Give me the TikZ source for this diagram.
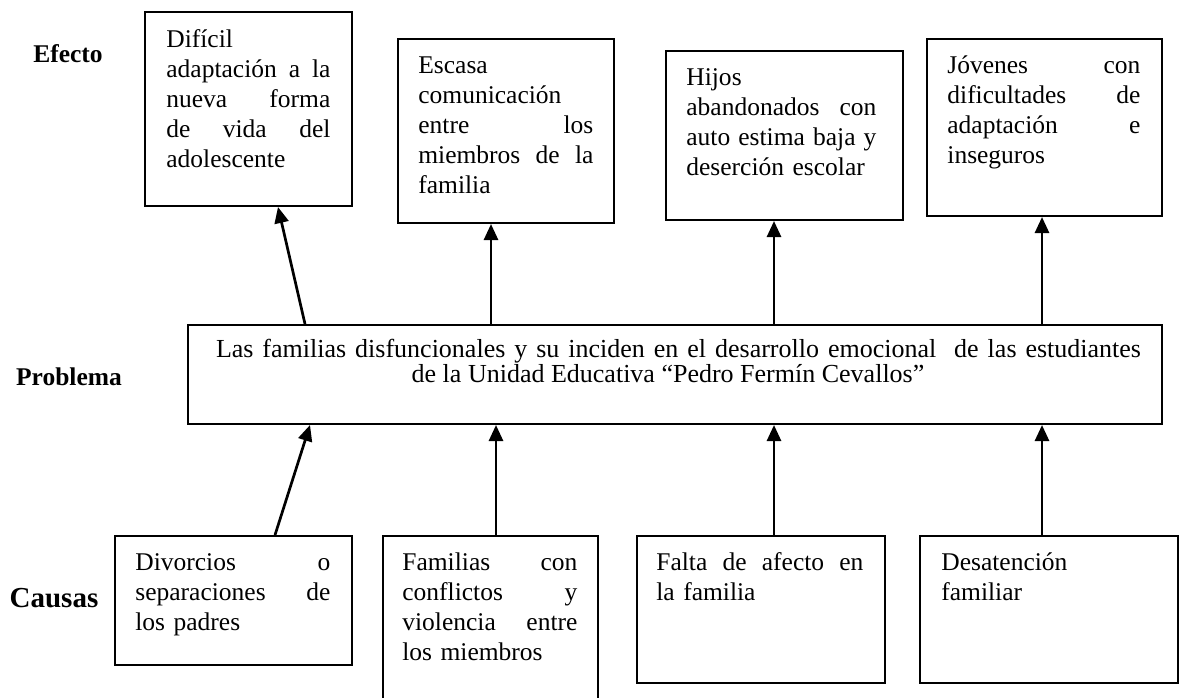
\documentclass[tikz,border=0pt]{standalone}
\usepackage{fontspec}
\setmainfont{Liberation Serif}
\usetikzlibrary{arrows.meta}
\newcommand\jl[2]{\leavevmode\hbox to #1{#2}}
\hbadness=10000 \hfuzz=20pt
\begin{document}
\begin{tikzpicture}[x=0.5pt,y=-0.5pt,
  frame/.style={draw, line width=1pt, inner sep=0pt, anchor=north west},
  txt/.style={anchor=base west, inner sep=0pt, align=left, font=\fontsize{12.75}{15}\selectfont},
  ptxt/.style={anchor=base, inner sep=0pt, font=\fontsize{13}{12.5}\selectfont},
  lbl/.style={anchor=base, inner sep=0pt, font=\fontsize{12.75}{15}\selectfont\bfseries},
  arr/.style={line width=1.35pt, -{Triangle[length=8pt,width=7pt]}}]
\useasboundingbox (0,0) rectangle (1182,697);
% frames
\node[frame, minimum width=103.5pt, minimum height=97pt] (e1) at (144,11) {};
\node[frame, minimum width=108pt, minimum height=92pt] (e2) at (397,38) {};
\node[frame, minimum width=118.5pt, minimum height=84.5pt] (e3) at (665,50) {};
\node[frame, minimum width=117.5pt, minimum height=88.5pt] (e4) at (926,38) {};
\node[frame, minimum width=487pt, minimum height=49.5pt] (prob) at (187,324) {};
\node[frame, minimum width=118.5pt, minimum height=64.5pt] (c1) at (114,535) {};
\node[frame, minimum width=107.5pt, minimum height=85pt] (c2) at (382,535) {};
\node[frame, minimum width=124pt, minimum height=73.5pt] (c3) at (636,535) {};
\node[frame, minimum width=129pt, minimum height=73.5pt] (c4) at (919,535) {};
% texts
\node[txt, text width=82pt] (t1) at (166,47)
  {Difícil\\\jl{82pt}{adaptación\hfill a\hfill la}\\\jl{82pt}{nueva\hfill forma}\\\jl{82pt}{de\hfill vida\hfill del}\\adolescente};
\node[txt, text width=87.5pt] (t2) at (418,73)
  {Escasa\\comunicación\\\jl{87.5pt}{entre\hfill los}\\\jl{87.5pt}{miembros\hfill de\hfill la}\\familia};
\node[txt, text width=96pt] (t3) at (686,85)
  {Hijos\\\jl{95pt}{abandonados\hfill con}\\\jl{95pt}{auto\hfill estima\hfill baja\hfill y}\\deserción escolar};
\node[txt, text width=96.5pt] (t4) at (947,73)
  {\jl{96.5pt}{Jóvenes\hfill con}\\\jl{96.5pt}{dificultades\hfill de}\\\jl{96.5pt}{adaptación\hfill e}\\inseguros};
\node[ptxt] (tp1) at (678.5,357)
  {\hbox to 462.5pt{Las familias disfuncionales y su inciden en el desarrollo emocional\ \ de las estudiantes}};
\node[ptxt] (tp2) at (668,382) {de la Unidad Educativa “Pedro Fermín Cevallos”};
\node[txt, text width=97.5pt] (tc1) at (135,570)
  {\jl{97.5pt}{Divorcios\hfill o}\\\jl{97.5pt}{separaciones\hfill de}\\los padres};
\node[txt, text width=87.5pt] (tc2) at (402,570)
  {\jl{87.5pt}{Familias\hfill con}\\\jl{87.5pt}{conflictos\hfill y}\\\jl{87.5pt}{violencia\hfill entre}\\los miembros};
\node[txt, text width=103.5pt] (tc3) at (656,570)
  {\jl{103.5pt}{Falta\hfill de\hfill afecto\hfill en}\\la familia};
\node[txt, text width=100pt] (tc4) at (941,570) {Desatención\\familiar};
% labels
\node[lbl] (lefecto) at (68,62) {Efecto};
\node[lbl] (lprob) at (69,385) {Problema};
\node[lbl, font=\fontsize{14.5}{17}\selectfont\bfseries] (lcaus) at (54,607) {Causas};
% arrow x positions
\coordinate (ua1) at (305,0); \coordinate (ua1t) at (278,0);
\coordinate (ua2) at (491,0);
\coordinate (ua3) at (774,0);
\coordinate (ua4) at (1042,0);
\coordinate (la1) at (275,0); \coordinate (la1t) at (310,0);
\coordinate (la2) at (496,0);
\coordinate (la3) at (774,0);
\coordinate (la4) at (1042,0);
% effect arrows
\draw[arr] (prob.north -| ua1) -- (e1.south -| ua1t);
\draw[arr] (prob.north -| ua2) -- (e2.south -| ua2);
\draw[arr] (prob.north -| ua3) -- (e3.south -| ua3);
\draw[arr] (prob.north -| ua4) -- (e4.south -| ua4);
% cause arrows
\draw[arr] (c1.north -| la1) -- (prob.south -| la1t);
\draw[arr] (c2.north -| la2) -- (prob.south -| la2);
\draw[arr] (c3.north -| la3) -- (prob.south -| la3);
\draw[arr] (c4.north -| la4) -- (prob.south -| la4);
\end{tikzpicture}
\end{document}
